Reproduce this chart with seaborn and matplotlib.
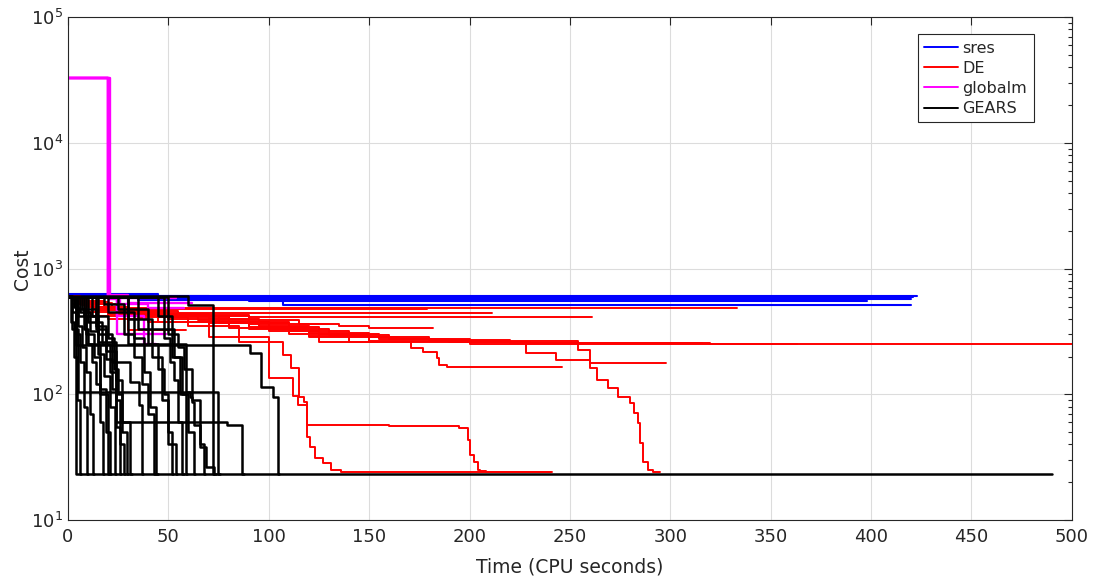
import pandas as pd
import numpy as np
import matplotlib
matplotlib.use('Agg')
import matplotlib.pyplot as plt
import seaborn as sns
from matplotlib.lines import Line2D
from matplotlib.ticker import LogLocator, NullFormatter

# Each run: (time points, cost from that time on) -- drawn as post steps
sres_runs = [
    ([0, 45, 423], [625, 606, 606]),
    ([0, 30, 130, 421], [620, 600, 596, 596]),
    ([0, 40, 150, 410], [615, 592, 585, 585]),
    ([0, 70, 420], [610, 575, 575]),
    ([0, 20, 90, 398], [605, 580, 555, 555]),
    ([0, 35, 107, 420], [600, 560, 515, 515]),
]

de_runs = [
    ([0, 6, 20, 45, 75, 100, 130, 160, 190, 230, 320, 500],
     [610, 540, 470, 420, 370, 330, 295, 275, 262, 255, 250, 250]),
    ([0, 5, 18, 40, 70, 95, 120, 150, 180, 220, 316],
     [600, 550, 490, 440, 400, 350, 310, 285, 270, 258, 258]),
    ([0, 4, 15, 35, 65, 90, 125, 155, 200, 363],
     [605, 545, 480, 430, 390, 345, 300, 275, 254, 254]),
    ([0, 4, 12, 333], [605, 540, 485, 485]),
    ([0, 3, 10, 30, 179], [600, 560, 500, 478, 478]),
    ([0, 5, 15, 40, 211], [600, 530, 480, 443, 443]),
    ([0, 6, 20, 50, 90, 261], [600, 520, 470, 430, 411, 411]),
    ([0, 8, 25, 55, 90, 115, 135, 150, 182],
     [600, 520, 460, 420, 390, 365, 350, 337, 337]),
    ([0, 5, 20, 50, 80, 110, 140, 171, 177, 184, 185, 189, 246],
     [600, 540, 470, 420, 370, 320, 260, 233, 216, 194, 170, 165, 165]),
    ([0, 6, 18, 40, 70, 100, 125, 228, 243, 260, 298],
     [600, 530, 470, 420, 370, 320, 262, 212, 188, 177, 177]),
    ([0, 5, 15, 35, 60, 90, 120, 150, 254, 260, 263.5, 269, 274, 280, 282, 284, 285, 286.5, 289, 291.5, 295],
     [600, 540, 480, 430, 380, 330, 290, 264, 225, 162, 130, 112, 95, 85, 71, 59, 41, 29, 25, 24.2, 24.2]),
    ([0, 6, 20, 45, 70, 100, 112, 114.5, 119, 160, 195, 199, 200, 202, 204, 205, 208, 241],
     [600, 520, 440, 380, 285, 135, 98, 82, 57, 56, 54, 43, 33, 29, 25, 24.5, 24.2, 24.2]),
    ([0, 5, 15, 35, 60, 85, 107, 111, 115, 117.5, 119, 120.5, 123, 127, 131, 136, 240],
     [600, 540, 470, 410, 350, 262, 205, 162, 95, 87, 46, 38, 31, 28.4, 25, 24.2, 24.2]),
    ([0, 4, 12, 30, 59], [600, 520, 420, 323, 323]),
    ([0, 3, 10, 25, 50, 90, 130], [600, 560, 500, 450, 400, 360, 360]),
    ([0, 5, 15, 35, 70, 110, 150], [600, 540, 480, 430, 380, 300, 300]),
    ([0, 8, 22, 45, 80, 120, 165], [600, 530, 470, 410, 340, 285, 285]),
    ([0, 2, 9, 20, 40, 100], [595, 520, 450, 400, 380, 380]),
    ([0, 3, 7, 14, 26, 45, 80], [610, 560, 510, 470, 440, 420, 420]),
]

globalm_runs = [
    ([0, 20, 23, 54], [33000, 610, 585, 585]),
    ([0, 20.5, 26, 40, 58], [33000, 570, 520, 490, 490]),
    ([0, 20, 24.4, 49], [33000, 590, 300, 300]),
    ([0, 21, 24.4, 38, 44], [33000, 600, 420, 250, 250]),
    ([0, 20, 30, 62], [33000, 620, 530, 530]),
]

gears_runs = [
    ([0, 3.8, 490], [600, 23.2, 23.2]),
    ([0, 4, 90.6, 96, 102, 104.5, 105], [600, 247, 213, 114, 95, 23.2, 23.2]),
    ([0, 2, 5, 74.7, 75.5], [610, 330, 104, 23.2, 23.2]),
    ([0, 8, 15, 24, 79, 86.6, 87.5], [600, 420, 260, 60, 57, 23.2, 23.2]),
    ([0, 60, 72, 72.5], [605, 513, 23.2, 23.2]),
    ([0, 1.5, 3, 4.5, 6, 6.5], [600, 380, 200, 90, 23.2, 23.2]),
    ([0, 2, 4, 6, 8, 9.5, 10], [600, 450, 300, 180, 80, 23.2, 23.2]),
    ([0, 3, 5, 7, 9, 11, 12.5, 13], [600, 500, 350, 240, 150, 70, 23.2, 23.2]),
    ([0, 4, 8, 10, 12, 14, 16, 17.4, 18], [600, 480, 330, 250, 180, 120, 60, 23.2, 23.2]),
    ([0, 5, 9, 13, 16, 19, 21, 21.5], [600, 420, 300, 200, 110, 50, 23.2, 23.2]),
    ([0, 6, 11, 15, 18, 21, 23.4, 24], [600, 450, 320, 210, 140, 80, 23.2, 23.2]),
    ([0, 7, 14, 19, 22, 24, 26, 26.5], [600, 480, 330, 190, 110, 55, 23.2, 23.2]),
    ([0, 10, 17, 21, 24, 26, 28, 28.5], [600, 380, 250, 150, 90, 40, 23.2, 23.2]),
    ([0, 12, 20, 23, 25, 27, 29.4, 30], [600, 420, 280, 160, 100, 50, 23.2, 23.2]),
    ([0, 15, 22, 31, 35.4, 37, 37.5], [600, 300, 180, 126, 82, 23.2, 23.2]),
    ([0, 18, 28, 33, 37, 40, 43, 43.5], [600, 520, 300, 200, 120, 70, 23.2, 23.2]),
    ([0, 25, 40, 45, 48, 50, 52, 52.5], [600, 480, 250, 160, 100, 50, 23.2, 23.2]),
    ([0, 30, 42, 47, 50, 54, 54.5], [600, 400, 200, 90, 40, 23.2, 23.2]),
    ([0, 48, 51, 53, 55, 57, 58], [600, 280, 180, 130, 60, 23.2, 23.2]),
    ([0, 45, 52, 56, 59, 59.5], [600, 420, 200, 100, 23.2, 23.2]),
    ([0, 50, 55, 58, 62, 66, 68, 68.5], [600, 300, 240, 160, 90, 40, 23.2, 23.2]),
    ([0, 30, 58.6, 61, 61.8, 62.7, 66, 69, 72.7, 73.5], [600, 250, 105, 95.5, 87, 57, 38, 26.5, 23.2, 23.2]),
    ([0, 14, 19, 24, 27, 31, 32], [600, 350, 220, 130, 60, 23.2, 23.2]),
    ([0, 20, 33, 38, 41, 44, 45], [600, 450, 280, 150, 80, 23.2, 23.2]),
    ([0, 9, 16, 20, 20.5], [600, 250, 100, 23.2, 23.2]),
    ([0, 35, 53, 57, 60, 63, 63.5], [600, 330, 200, 100, 50, 23.2, 23.2]),
]

methods = ['sres', 'DE', 'globalm', 'GEARS']
colors = {'sres': '#0000ff', 'DE': '#ff0000', 'globalm': '#ff00ff', 'GEARS': '#000000'}
widths = {'sres': 1.5, 'DE': 1.4, 'globalm': 1.7, 'GEARS': 1.8}

rows = []
rid = 0
for name, runs in zip(methods, [sres_runs, de_runs, globalm_runs, gears_runs]):
    for t, c in runs:
        for ti, ci in zip(t, c):
            rows.append((name, rid, ti, ci))
        rid += 1
df = pd.DataFrame(rows, columns=['method', 'run', 'time', 'cost'])

sns.set_theme(style='whitegrid')
plt.rcParams['font.family'] = ['DejaVu Sans']

fig = plt.figure(figsize=(10.96, 5.76), dpi=100)
ax = fig.add_axes([0.062, 0.097, 0.916, 0.873])

for m in methods:
    sub = df[df['method'] == m]
    sns.lineplot(data=sub, x='time', y='cost', units='run', estimator=None,
                 drawstyle='steps-post', sort=False, color=colors[m],
                 linewidth=widths[m], ax=ax, legend=False)

ax.set_yscale('log')
ax.set_xlim(0, 500)
ax.set_ylim(10, 1e5)
ax.set_xticks(np.arange(0, 501, 50))
ax.yaxis.set_minor_locator(LogLocator(base=10, subs=np.arange(2, 10)))
ax.yaxis.set_minor_formatter(NullFormatter())

ax.grid(True, which='major', color='#dcdcdc', linewidth=0.8)
ax.grid(False, which='minor')
for s in ax.spines.values():
    s.set_color('#262626')
    s.set_linewidth(0.8)
ax.tick_params(axis='both', which='both', direction='in', top=True, right=True,
               colors='#262626', labelsize=13, labelcolor='#262626')
ax.tick_params(which='major', length=6, width=0.8)
ax.tick_params(which='minor', length=3, width=0.8)
ax.tick_params(axis='x', pad=6)

ax.set_xlabel('Time (CPU seconds)', fontsize=13.5, color='#262626', labelpad=8)
ax.set_ylabel('Cost', fontsize=13.5, color='#262626', labelpad=-1)

handles = [Line2D([], [], color=colors[m], lw=1.4) for m in methods]
leg = ax.legend(handles, methods, loc='upper right', bbox_to_anchor=(0.962, 0.966),
                borderaxespad=0, fontsize=11.5, frameon=True, fancybox=False,
                framealpha=1, edgecolor='#262626', handlelength=2.1, borderpad=0.4,
                labelspacing=0.32, handletextpad=0.3)
leg.get_frame().set_linewidth(0.8)

fig.savefig('out.png', dpi=100)
